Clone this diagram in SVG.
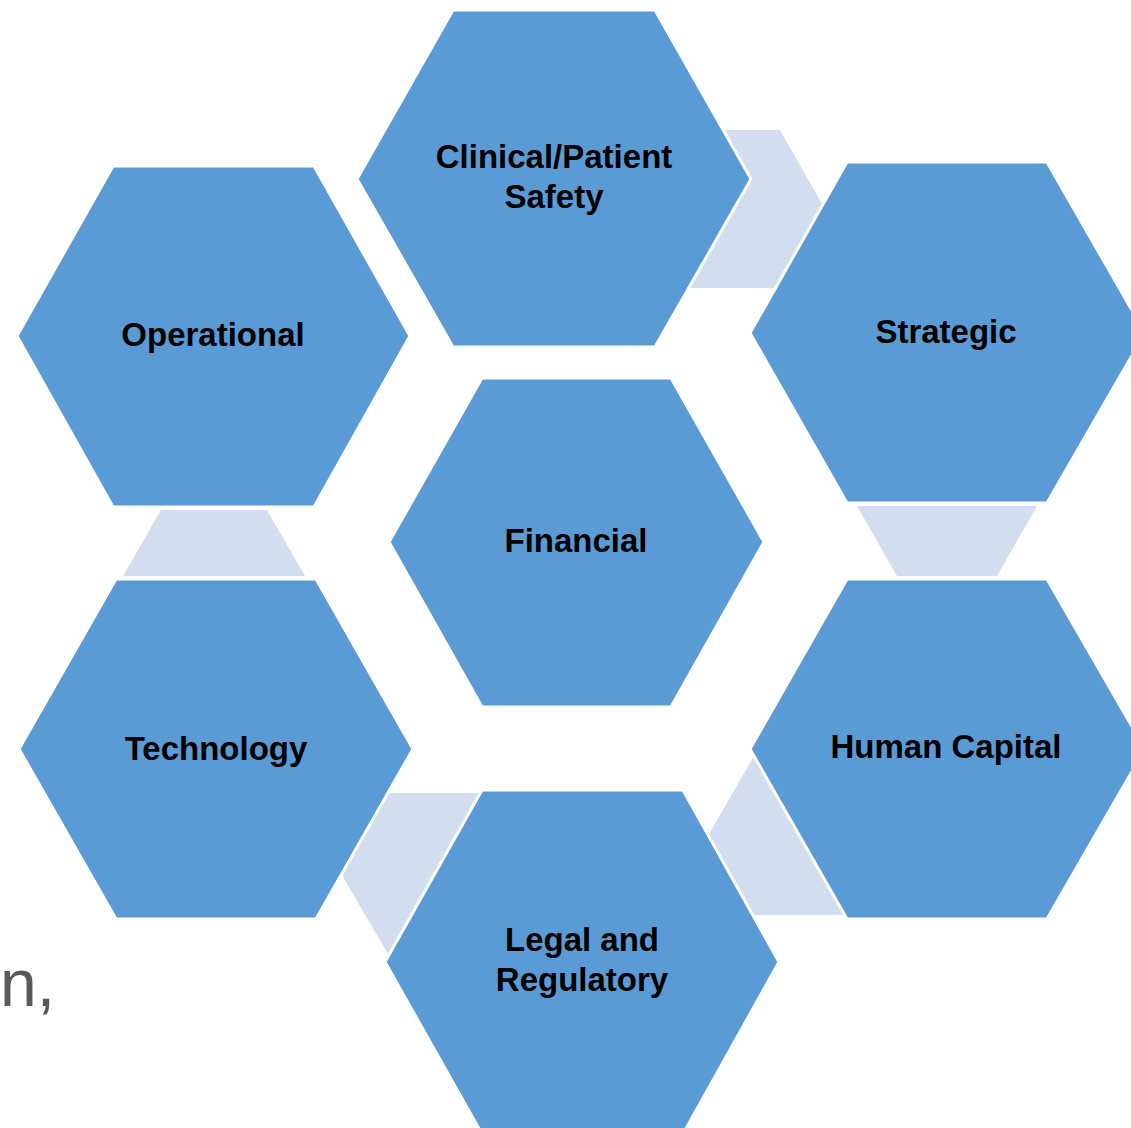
<svg xmlns="http://www.w3.org/2000/svg" width="1131" height="1128" viewBox="0 0 1131 1128">
  <style>
    .hex { fill: #5B9BD5; stroke: #FFFFFF; stroke-width: 3; stroke-linejoin: miter; }
    .conn { fill: #D2DEEF; stroke: none; }
    .lbl { font-family: "Liberation Sans", Arial, sans-serif; font-weight: bold; font-size: 33px; fill: #000000; text-anchor: middle; }
    .bg { font-family: "Liberation Sans", Arial, sans-serif; font-size: 66px; fill: #595959; }
  </style>
  <rect x="0" y="0" width="1131" height="1128" fill="#FFFFFF"/>
  <text class="bg" x="0" y="1006">n,</text>
  <g id="connectors">
    <polygon class="conn" points="700,130 780,130 830,218 800,288 680,288"/>
    <polygon class="conn" points="857,506 1037,506 997,576 897,576"/>
    <polygon class="conn" points="769,730 800,730 860,915 700,915 690,867"/>
    <polygon class="conn" points="360,793 500,793 420,940 395,966 343,877"/>
    <polygon class="conn" points="161,510 267,510 305,576 123,576"/>
  </g>
  <g id="node-clinical">
    <polygon class="hex" points="453,10 655,10 751,179 655,347 453,347 357,179"/>
    <text class="lbl" x="554" y="168">Clinical/Patient</text>
    <text class="lbl" x="554" y="208">Safety</text>
  </g>
  <g id="node-operational">
    <polygon class="hex" points="113,166 314,166 410,336 314,507 113,507 17,336"/>
    <text class="lbl" x="213" y="346">Operational</text>
  </g>
  <g id="node-strategic">
    <polygon class="hex" points="847,162 1047,162 1145,333 1047,503 847,503 750,333"/>
    <text class="lbl" x="946" y="343">Strategic</text>
  </g>
  <g id="node-financial">
    <polygon class="hex" points="482,378 671,378 764,542 671,707 482,707 389,542"/>
    <text class="lbl" x="576" y="552">Financial</text>
  </g>
  <g id="node-technology">
    <polygon class="hex" points="116,579 316,579 413,749 316,919 116,919 19,749"/>
    <text class="lbl" x="216" y="760">Technology</text>
  </g>
  <g id="node-human-capital">
    <polygon class="hex" points="847,579 1047,579 1145,749 1047,919 847,919 750,749"/>
    <text class="lbl" x="946" y="758">Human Capital</text>
  </g>
  <g id="node-legal">
    <polygon class="hex" points="482,790 683,790 779,962 683,1134 482,1134 385,962"/>
    <text class="lbl" x="582" y="951">Legal and</text>
    <text class="lbl" x="582" y="991">Regulatory</text>
  </g>
</svg>
